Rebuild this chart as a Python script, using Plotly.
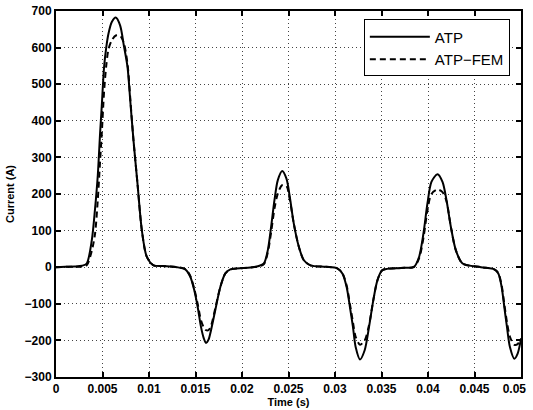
import plotly.graph_objects as go

# time samples (s)
time_s = [0.0, 0.001, 0.002, 0.0028, 0.0033, 0.00385, 0.0042, 0.00449, 0.00474, 0.00492,
          0.00517, 0.0054, 0.00564, 0.006, 0.00643, 0.0069, 0.0073, 0.00769, 0.008, 0.00833,
          0.00876, 0.00923, 0.00977, 0.01049, 0.0115, 0.013, 0.0139, 0.01444, 0.01487, 0.01523,
          0.01559, 0.0159, 0.01613, 0.0164, 0.01667, 0.01713, 0.01767, 0.01821, 0.01875, 0.0202,
          0.0215, 0.02234, 0.02277, 0.02313, 0.02349, 0.02385, 0.02432, 0.02478, 0.02514, 0.02557,
          0.02611, 0.02665, 0.02737, 0.029, 0.03024, 0.03079, 0.03125, 0.0316, 0.03193, 0.03222,
          0.03269, 0.03319, 0.03366, 0.03412, 0.03456, 0.0351, 0.0371, 0.0385, 0.03904, 0.03951,
          0.03994, 0.04037, 0.04102, 0.04156, 0.04199, 0.04246, 0.043, 0.04372, 0.04569, 0.04713,
          0.04756, 0.04792, 0.0482, 0.04849, 0.04881, 0.04928, 0.04964, 0.05]

atp = [0, 1, 2, 4, 10, 74, 160, 250, 365, 440,
       547, 600, 638, 670, 682, 660, 605, 547, 450, 347,
       229, 101, 28, 5, 3, 0, -6, -26, -63, -108,
       -163, -195, -207, -198, -172, -117, -54, -17, -6, -2,
       1, 10, 46, 110, 183, 238, 263, 242, 192, 119,
       56, 19, 5, 1, -3, -17, -54, -108, -163, -218,
       -252, -227, -163, -90, -36, -8, -2, 1, 28, 92,
       174, 233, 254, 233, 183, 110, 46, 10, 0, -6,
       -17, -54, -108, -163, -218, -250, -236, -195]

atp_fem = [0, 1, 1, 2, 5, 45, 92, 183, 290, 365,
           480, 550, 595, 620, 633, 632, 612, 555, 456, 347,
           229, 101, 28, 5, 3, 0, -5, -24, -60, -100,
           -145, -165, -172, -172, -160, -112, -54, -17, -6, -2,
           1, 8, 40, 95, 160, 201, 224, 222, 185, 119,
           56, 19, 5, 1, -3, -16, -50, -100, -150, -190,
           -212, -200, -158, -90, -36, -8, -2, 1, 24, 80,
           155, 200, 212, 205, 180, 110, 46, 10, 0, -6,
           -16, -50, -100, -150, -190, -212, -210, -195]

x_ticks = [0, 0.005, 0.01, 0.015, 0.02, 0.025, 0.03, 0.035, 0.04, 0.045, 0.05]
x_labels = ["0", "0.005", "0.01", "0.015", "0.02", "0.025", "0.03", "0.035", "0.04", "0.045", "0.05"]
y_ticks = [-300, -200, -100, 0, 100, 200, 300, 400, 500, 600, 700]
y_labels = ["\u2212300", "\u2212200", "\u2212100", "0", "100", "200", "300", "400", "500", "600", "700"]

FONT = "Liberation Sans, Arial, Helvetica"


def bold(labels):
    return ["<b>%s</b>" % s for s in labels]


def plot_inrush():
    """ ATP vs ATP-FEM inrush current, MATLAB look """
    fig = go.Figure()
    fig.add_trace(go.Scatter(x=time_s, y=atp, name="ATP", mode="lines",
                             line=dict(color="black", width=2, shape="spline", smoothing=0.8)))
    fig.add_trace(go.Scatter(x=time_s, y=atp_fem, name="ATP\u2212FEM", mode="lines",
                             line=dict(color="black", width=2, dash="6px,4px",
                                       shape="spline", smoothing=0.8)))

    axis_style = dict(showline=True, linecolor="black", linewidth=2, mirror="allticks",
                      ticks="inside", ticklen=5, tickwidth=1.5, tickcolor="black",
                      showgrid=True, gridcolor="#444", gridwidth=1, griddash="1px,3px",
                      zeroline=False, automargin=False, ticklabeloverflow="allow",
                      tickfont=dict(family=FONT, size=12, color="black", weight="bold"))
    xt = bold(x_labels)
    # last x label sits a little inside the frame, as in the original export
    xt[-1] = "<b>0.05</b>&nbsp;&nbsp;&nbsp;&nbsp;"
    fig.update_xaxes(axis_style, range=[0, 0.05], tickvals=x_ticks, ticktext=xt,
                     title=dict(text="<b>Time (s)</b>", standoff=1,
                                font=dict(family=FONT, size=11, color="black")))
    fig.update_yaxes(axis_style, range=[-300, 700], tickvals=y_ticks, ticktext=bold(y_labels),
                     title=dict(text="<b>Current (A)</b>", standoff=8,
                                font=dict(family=FONT, size=11, color="black")))

    fig.update_layout(width=533, height=410,
                      margin=dict(l=56, r=12, t=11, b=33),
                      plot_bgcolor="white", paper_bgcolor="white",
                      showlegend=True,
                      legend=dict(x=0.976, y=0.977, xanchor="right", yanchor="top",
                                  bgcolor="white", bordercolor="black", borderwidth=1,
                                  itemwidth=60,
                                  font=dict(family=FONT, size=15, color="black")))
    fig.write_html("out.html", config={"displayModeBar": False},
                   post_script="document.body.style.margin='0';")


if __name__ == "__main__":
    plot_inrush()
